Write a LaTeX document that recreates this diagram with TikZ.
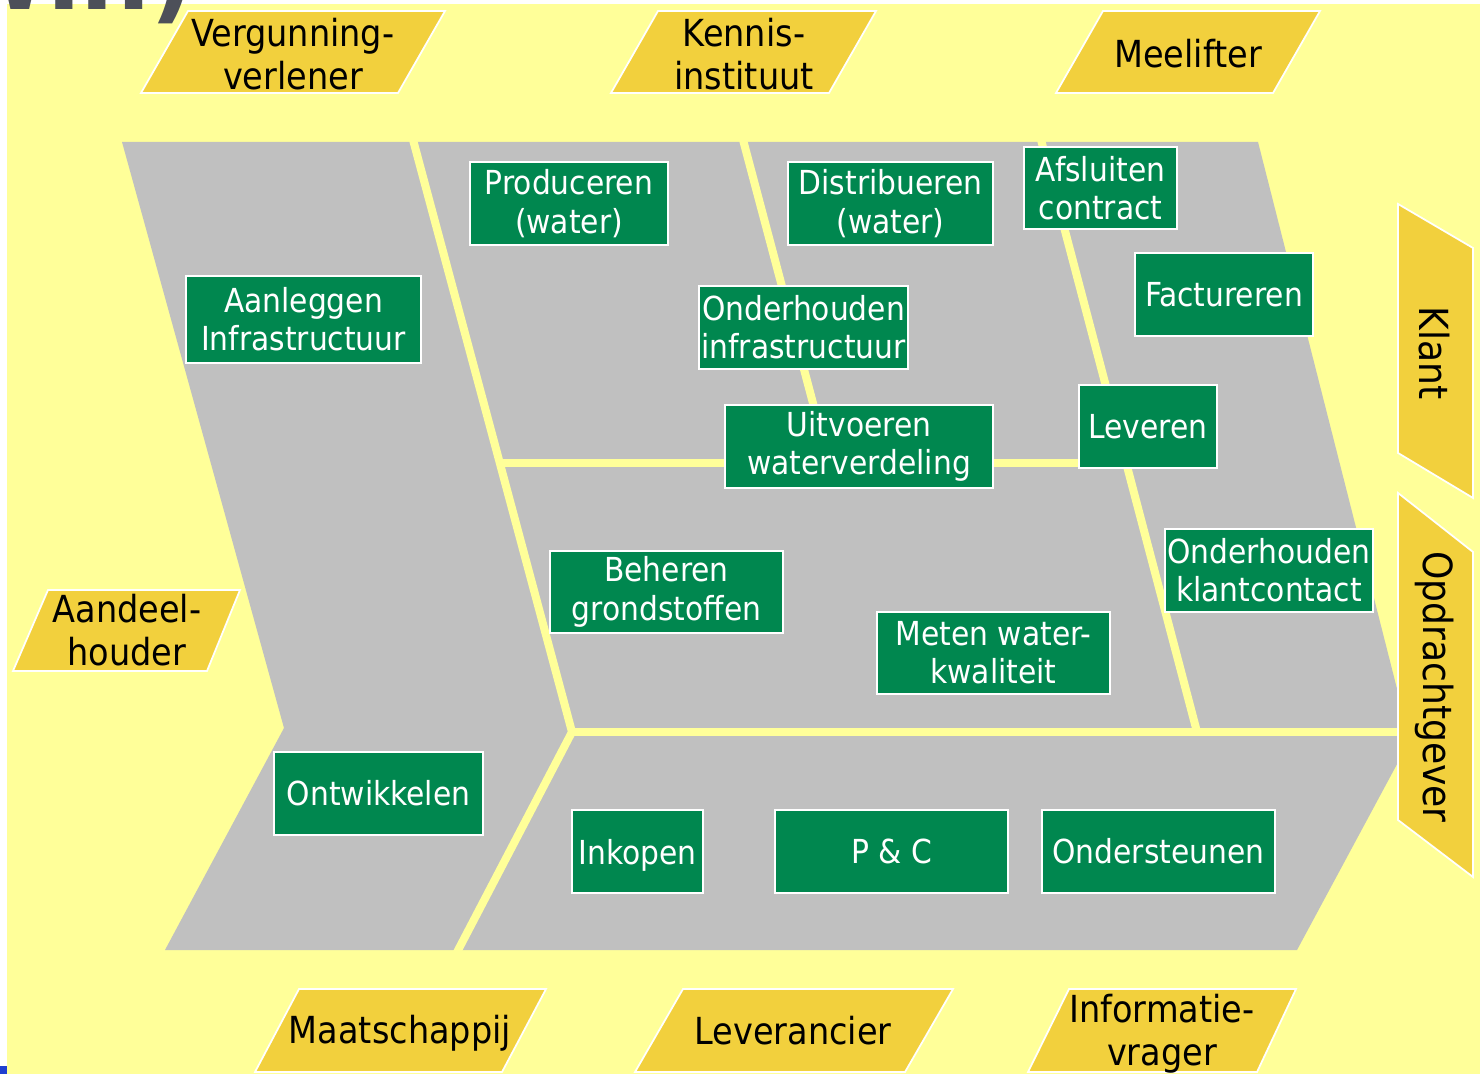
\documentclass[tikz,border=0pt]{standalone}
\usepackage{fontspec}
\setmainfont{DejaVu Sans Condensed}

\definecolor{bgyellow}{HTML}{FFFF99}
\definecolor{bandgray}{HTML}{C0C0C0}
\definecolor{taskgreen}{HTML}{00874F}
\definecolor{rolegold}{HTML}{F2D03D}
\definecolor{titlegray}{HTML}{4D5059}
\definecolor{slideblue}{HTML}{1F3FD0}

\begin{document}
\begin{tikzpicture}[x=0.01cm,y=-0.01cm]
            \tikzstyle{task}=[draw=white,line width=0.4pt,fill=taskgreen,text=white,inner sep=0pt,align=center,minimum height=0.83cm,font=\fontsize{9.4}{10.9}\selectfont]
            \tikzstyle{role}=[inner sep=0pt,align=center,text=black,font=\fontsize{10.6}{12.2}\selectfont]
            \tikzstyle{sidelabel}=[inner sep=0pt,text=black,rotate=-90,font=\fontsize{11.4}{12}\selectfont]
            \tikzstyle{rolebox}=[fill=rolegold,draw=white,line width=0.5pt]
            \tikzstyle{divider}=[draw=bgyellow,line width=0.08cm]

            \useasboundingbox (0,0) rectangle (1480,1074);
            \fill[white] (0,0) rectangle (1480,1074);
            \fill[bgyellow] (7,4) rectangle (1480,1074);
            \fill[slideblue] (0,1066) rectangle (7,1074);
            \node (slidetitle) at (196,10) [anchor=base east,inner sep=0pt,text=titlegray,font=\fontsize{31}{31}\selectfont\bfseries] {win)};

            % chevron with the processes
            \fill[bandgray] (122,142) -- (1258,142) -- (1410,740) -- (1297,950) -- (165,950) -- (284,728) -- cycle;
            \draw[divider] (412,136) -- (572,732) -- (455,956);
            \draw[divider] (572,732) -- (1405,732);
            \draw[divider] (500,463.5) -- (1129,463.5);
            \draw[divider] (742,136) -- (829,463.5);
            \draw[divider] (1040,136) -- (1197,732);

            % stakeholders
            \draw[rolebox] (188,11) -- (445,11) -- (398,93) -- (141,93) -- cycle;
            \draw[rolebox] (658,11) -- (876,11) -- (829,93) -- (611,93) -- cycle;
            \draw[rolebox] (1103,11) -- (1320,11) -- (1273,93) -- (1056,93) -- cycle;
            \draw[rolebox] (48,590) -- (240,590) -- (207,671) -- (13,671) -- cycle;
            \draw[rolebox] (299,989) -- (546,989) -- (502,1072) -- (255,1072) -- cycle;
            \draw[rolebox] (683,989) -- (953,989) -- (905,1072) -- (635,1072) -- cycle;
            \draw[rolebox] (1069,989) -- (1296,989) -- (1257,1072) -- (1028,1072) -- cycle;
            \draw[rolebox] (1398,204) -- (1473,248) -- (1473,498) -- (1398,453) -- cycle;
            \draw[rolebox] (1398,493) -- (1473,552) -- (1473,877) -- (1398,820) -- cycle;

            \node (vergunning) at (293,54) [role] {Vergunning-\\verlener};
            \node (kennis) at (744,54) [role] {Kennis-\\instituut};
            \node (meelifter) at (1188,54) [role] {Meelifter};
            \node (aandeel) at (127,630) [role] {Aandeel-\\houder};
            \node (maatschappij) at (400,1033) [role] {Maatschappij};
            \node (leverancier) at (793,1031) [role] {Leverancier};
            \node (informatie) at (1162,1034) [role] {Informatie-\\vrager};
            \node (klant) at (1434,353) [sidelabel] {Klant};
            \node (opdrachtgever) at (1435,687) [sidelabel] {Opdrachtgever};

            % processes
            \node (aanleggen) at (303.5,319.5) [task,minimum width=2.35cm,minimum height=0.87cm] {Aanleggen\\Infrastructuur};
            \node (ontwikkelen) at (378.5,793.5) [task,minimum width=2.09cm] {Ontwikkelen};
            \node (produceren) at (569,203.5) [task,minimum width=1.98cm] {Produceren\\(water)};
            \node (distribueren) at (890.5,203.5) [task,minimum width=2.05cm] {Distribueren\\(water)};
            \node (onderhoudeninfra) at (803.5,327.5) [task,minimum width=2.09cm] {Onderhouden\\infrastructuur};
            \node (uitvoeren) at (859,446.5) [task,minimum width=2.68cm] {Uitvoeren\\waterverdeling};
            \node (afsluiten) at (1100.5,188) [task,minimum width=1.53cm,minimum height=0.82cm] {Afsluiten\\contract};
            \node (factureren) at (1224,294.5) [task,minimum width=1.78cm] {Factureren};
            \node (leveren) at (1148,426.5) [task,minimum width=1.38cm] {Leveren};
            \node (beheren) at (666.5,592) [task,minimum width=2.33cm,minimum height=0.82cm] {Beheren\\grondstoffen};
            \node (meten) at (993.5,653) [task,minimum width=2.33cm,minimum height=0.82cm] {Meten water-\\kwaliteit};
            \node (onderhoudenklant) at (1269,570.5) [task,minimum width=2.08cm] {Onderhouden\\klantcontact};
            \node (inkopen) at (637.5,851.5) [task,minimum width=1.31cm,text depth=0pt] {Inkopen};
            \node (pc) at (891.5,851.5) [task,minimum width=2.33cm] {P \& C};
            \node (ondersteunen) at (1158.5,851.5) [task,minimum width=2.33cm] {Ondersteunen};
          \end{tikzpicture}
\end{document}
